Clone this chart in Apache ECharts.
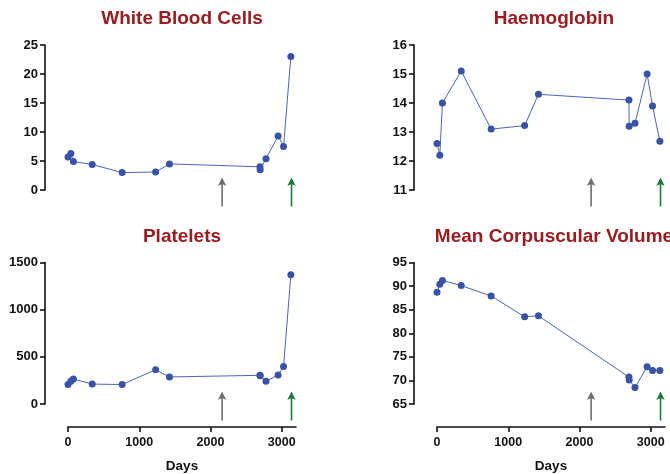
<!DOCTYPE html>
<html>
<head>
<meta charset="utf-8">
<script src="https://cdn.jsdelivr.net/npm/echarts@6/dist/echarts.min.js"></script>
<style>
html,body{margin:0;padding:0;background:#fff;}
#chart{width:670px;height:474px;}
</style>
</head>
<body>
<div id="chart"></div>
<script>
// ---- data ----
const days = [0, 40, 76, 340, 760, 1230, 1424, 2694, 2697, 2779, 2949, 3025, 3128];
const wbc = [5.7, 6.3, 4.9, 4.4, 3.0, 3.1, 4.5, 4.0, 3.5, 5.4, 9.3, 7.5, 23.0];
const haemoglobin = [12.6, 12.2, 14.0, 15.1, 13.1, 13.22, 14.3, 14.1, 13.2, 13.3, 15.0, 13.9, 12.68];
const platelets = [208, 240, 265, 211, 207, 363, 287, 304, 300, 242, 308, 397, 1369];
const mcv = [88.7, 90.4, 91.2, 90.1, 87.9, 83.5, 83.7, 70.7, 70.1, 68.5, 72.9, 72.1, 72.1];
const arrowDays = [2163, 3137];
const titles = ['White Blood Cells', 'Haemoglobin', 'Platelets', 'Mean Corpuscular Volume'];
const yRanges = [[0, 25, 5], [11, 16, 1], [0, 1500, 500], [65, 95, 5]];
const xRange = [0, 3200];
const xTickValues = [0, 1000, 2000, 3000];
const xName = 'Days';

const FONT = "'Liberation Sans', Arial, Helvetica, sans-serif";
const BLUE = '#3a52a6';
const LINE = '#4d64ba';
const TITLE_RED = '#9b1c20';
const ARROW_COLORS = ['#6e6e6e', '#1f7a3a'];

const panels = [
  {vals: wbc, left: 68, right: 374, top: 45, bottom: 284, showX: false, titleX: 177, titleY: 4},
  {vals: haemoglobin, left: 437, right: 5, top: 45, bottom: 284, showX: false, titleX: 549, titleY: 4},
  {vals: platelets, left: 68, right: 374, top: 262.5, bottom: 68, showX: true, titleX: 177, titleY: 222},
  {vals: mcv, left: 437, right: 5, top: 262.5, bottom: 68, showX: true, titleX: 549, titleY: 222}
];

const grid = [], xAxis = [], yAxis = [], series = [], title = [];
panels.forEach((p, i) => {
  grid.push({left: p.left, right: p.right, top: p.top, bottom: p.bottom, containLabel: false});
  title.push({
    text: titles[i], left: p.titleX, top: p.titleY, textAlign: 'center',
    textStyle: {fontFamily: FONT, fontSize: 19, fontWeight: 'bold', color: TITLE_RED}
  });
  xAxis.push({
    type: 'value', gridIndex: i, min: xRange[0], max: xRange[1],
    show: p.showX, offset: 23, position: 'bottom',
    name: xName, nameLocation: 'middle', nameGap: 32,
    nameTextStyle: {fontFamily: FONT, fontSize: 13.5, fontWeight: 'bold', color: '#111'},
    axisLine: {show: true, onZero: false, lineStyle: {color: '#111', width: 1.6}},
    axisTick: {show: true, length: 5, customValues: xTickValues, lineStyle: {color: '#111', width: 1.6}},
    axisLabel: {fontFamily: FONT, fontSize: 12.5, fontWeight: 'bold', color: '#111', margin: 9,
      customValues: xTickValues, formatter: v => String(v)},
    splitLine: {show: false}
  });
  const yr = yRanges[i];
  yAxis.push({
    type: 'value', gridIndex: i, min: yr[0], max: yr[1], interval: yr[2], offset: 23, position: 'left',
    axisLine: {show: true, onZero: false, lineStyle: {color: '#111', width: 1.6}},
    axisTick: {show: true, length: 5, lineStyle: {color: '#111', width: 1.6}},
    axisLabel: {fontFamily: FONT, fontSize: 13, fontWeight: 'bold', color: '#111', margin: 7,
      formatter: v => String(v)},
    splitLine: {show: false}
  });
  series.push({
    type: 'line', xAxisIndex: i, yAxisIndex: i,
    data: days.map((d, k) => [d, p.vals[k]]),
    symbol: 'circle', symbolSize: 7,
    itemStyle: {color: BLUE},
    lineStyle: {color: LINE, width: 1},
    emphasis: {disabled: true},
    animation: false, clip: false, z: 3
  });
  const yMin = yr[0];
  series.push({
    type: 'custom', xAxisIndex: i, yAxisIndex: i, clip: false, animation: false,
    data: arrowDays.map(d => [d, yMin]),
    renderItem: (params, api) => {
      const c = api.coord([api.value(0), api.value(1)]);
      const x = c[0], tip = c[1] - 12.5, base = c[1] + 16.5;
      const col = ARROW_COLORS[params.dataIndex];
      return {
        type: 'group',
        children: [
          {type: 'line', shape: {x1: x, y1: base, x2: x, y2: tip + 5},
           style: {stroke: col, lineWidth: 1.6}},
          {type: 'polygon', shape: {points: [[x, tip], [x + 4.2, tip + 8.5], [x, tip + 6.5], [x - 4.2, tip + 8.5]]},
           style: {fill: col}}
        ]
      };
    }
  });
});

const chart = echarts.init(document.getElementById('chart'), null, {renderer: 'canvas'});
chart.setOption({
  backgroundColor: '#ffffff',
  animation: false,
  title, grid, xAxis, yAxis, series
});
</script>
</body>
</html>
